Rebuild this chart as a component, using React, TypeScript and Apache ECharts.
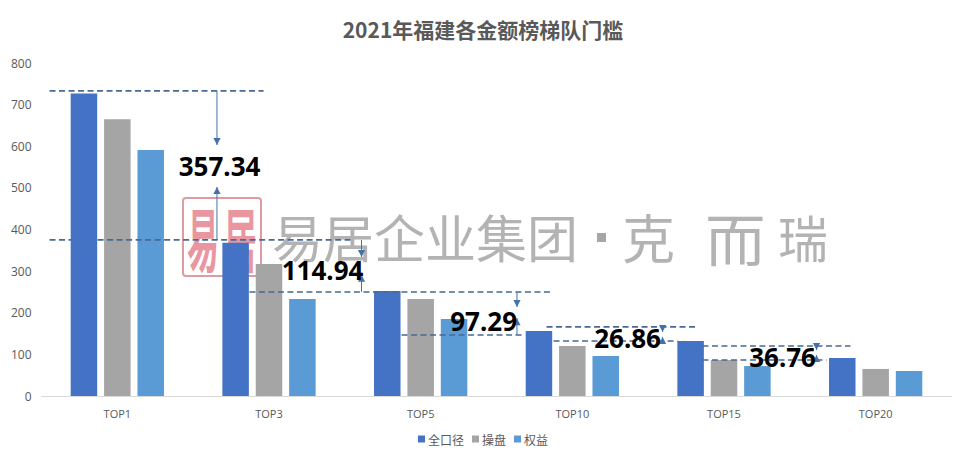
import React, { useEffect, useRef } from "react";
import * as echarts from "echarts";

const categories = ["TOP1", "TOP3", "TOP5", "TOP10", "TOP15", "TOP20"];
const allValues = [727, 368, 252, 156, 132, 91];
const operatingValues = [665, 317, 233, 120, 86.5, 65];
const equityValues = [591, 233, 185, 96, 72, 60];

// Dashed levels: [from (category units), to (category units), value]
const dashedLevels = [
  [0.053, 1.464, 733],
  [0.053, 0.197, 375],
  [0.37, 2.037, 375],
  [1.371, 3.363, 250],
  [2.374, 3.185, 146.5],
  [3.33, 4.312, 166],
  [3.376, 4.193, 132],
  [4.358, 5.334, 120],
  [4.358, 5.176, 86.5],
];
// Arrows: [x (category units), start value, tip value]
const gapArrows = [
  [1.157, 733, 603],
  [1.157, 375, 502],
  [2.11, 375, 334],
  [2.11, 250, 291],
  [3.135, 250, 214],
  [3.135, 146.5, 187],
  [4.095, 166, 154],
  [4.095, 132, 142],
  [5.11, 120, 110.5],
  [5.11, 86.5, 98.5],
];
const gapLabelTexts = ["357.34", "114.94", "97.29", "26.86", "36.76"];
const gapLabelX = [1.174, 1.853, 2.915, 3.864, 4.886];
const gapLabelY = [552, 303, 180, 139, 94];

const CJK = '"Noto Sans CJK SC", "Noto Sans", sans-serif';
const LINE = "#4a6a94";
const ARROW = "#4472a8";

export default function App() {
  const ref = useRef<HTMLDivElement>(null);
  useEffect(() => {
    const chart = echarts.init(ref.current!, null, { renderer: "svg" });
    const bar = (name: string, data: number[], color: string) => ({
      name,
      type: "bar",
      data,
      barWidth: 26.5,
      barGap: "26%",
      itemStyle: { color },
      z: 2,
    });
    const wmText = (text: string, x: number, y: number, size = 50, scaleX = 1) => ({
      type: "text",
      x,
      y,
      scaleX,
      silent: true,
      style: {
        text,
        fill: "rgba(160,160,160,0.8)",
        font: `400 ${size}px ${CJK}`,
        textVerticalAlign: "middle",
        verticalAlign: "middle",
        textAlign: "left",
      },
    });
    chart.setOption({
      animation: false,
      backgroundColor: "#ffffff",
      textStyle: { fontFamily: CJK },
      title: {
        text: "2021年福建各金额榜梯队门槛",
        left: 478,
        top: 13,
        textAlign: "center",
        textStyle: { fontSize: 21, fontWeight: "bold", color: "#595959", fontFamily: CJK },
      },
      legend: {
        data: ["全口径", "操盘", "权益"],
        left: "center",
        top: 428,
        itemWidth: 7,
        itemHeight: 7,
        itemGap: 8,
        icon: "rect",
        textStyle: { fontSize: 12, color: "#595959", padding: [0, 0, 0, -2], fontFamily: CJK },
      },
      grid: { left: 41.5, right: 14.5, top: 63, bottom: 65, containLabel: false },
      xAxis: [
        {
          type: "category",
          data: categories,
          axisTick: { show: false },
          axisLine: { lineStyle: { color: "#d9d9d9" } },
          axisLabel: { color: "#595959", fontSize: 11, margin: 12, fontFamily: "Open Sans" },
        },
        { type: "value", min: 0, max: 6, show: false },
      ],
      yAxis: {
        type: "value",
        min: 0,
        max: 800,
        interval: 100,
        splitLine: { show: false },
        axisLine: { show: false },
        axisTick: { show: false },
        axisLabel: { color: "#595959", fontSize: 12, margin: 10, fontFamily: "Open Sans" },
      },
      series: [
        bar("全口径", allValues, "#4472c4"),
        bar("操盘", operatingValues, "#a5a5a5"),
        bar("权益", equityValues, "#5b9bd5"),
        {
          type: "custom",
          xAxisIndex: 1,
          silent: true,
          z: 5,
          data: dashedLevels,
          encode: { x: [0, 1], y: 2 },
          renderItem: (_p: any, api: any) => {
            const a = api.coord([api.value(0), api.value(2)]);
            const b = api.coord([api.value(1), api.value(2)]);
            return {
              type: "line",
              shape: { x1: a[0], y1: a[1], x2: b[0], y2: b[1] },
              style: { stroke: LINE, lineWidth: 1.6, lineDash: [6, 3.5] },
            };
          },
        },
        {
          type: "custom",
          xAxisIndex: 1,
          silent: true,
          z: 6,
          data: gapArrows,
          encode: { x: 0, y: [1, 2] },
          renderItem: (_p: any, api: any) => {
            const s = api.coord([api.value(0), api.value(1)]);
            const t = api.coord([api.value(0), api.value(2)]);
            const dir = t[1] > s[1] ? 1 : -1;
            return {
              type: "group",
              children: [
                {
                  type: "line",
                  shape: { x1: s[0], y1: s[1], x2: t[0], y2: t[1] },
                  style: { stroke: ARROW, lineWidth: 1 },
                },
                {
                  type: "polygon",
                  shape: {
                    points: [
                      [t[0], t[1]],
                      [t[0] - 3.6, t[1] - dir * 7],
                      [t[0] + 3.6, t[1] - dir * 7],
                    ],
                  },
                  style: { fill: ARROW },
                },
              ],
            };
          },
        },
        {
          type: "custom",
          xAxisIndex: 1,
          silent: true,
          z: 7,
          data: gapLabelX.map((x, i) => [x, gapLabelY[i], gapLabelTexts[i]]),
          encode: { x: 0, y: 1 },
          renderItem: (_p: any, api: any) => {
            const c = api.coord([api.value(0), api.value(1)]);
            return {
              type: "text",
              x: c[0],
              y: c[1],
              style: {
                text: String(api.value(2)),
                fill: "#000000",
                font: '700 26px "Noto Sans", sans-serif',
                textAlign: "center",
                textVerticalAlign: "middle",
                verticalAlign: "middle",
              },
            };
          },
        },
      ],
      graphic: [
        {
          type: "group",
          silent: true,
          z: 20,
          children: [
            {
              type: "rect",
              shape: { x: 183, y: 198, width: 78, height: 78, r: 3 },
              style: { fill: "rgba(255,255,255,0.15)", stroke: "rgba(214,120,130,0.75)", lineWidth: 2 },
            },
            {
              type: "text",
              x: 187,
              y: 237,
              scaleX: 0.8,
              scaleY: 1.75,
              style: {
                text: "易",
                fill: "rgba(222,96,112,0.68)",
                font: `700 40px ${CJK}`,
                textVerticalAlign: "middle",
                verticalAlign: "middle",
              },
            },
            {
              type: "text",
              x: 224,
              y: 237,
              scaleX: 0.82,
              scaleY: 1.75,
              style: {
                text: "居",
                fill: "rgba(222,96,112,0.68)",
                font: `700 40px ${CJK}`,
                textVerticalAlign: "middle",
                verticalAlign: "middle",
              },
            },
            wmText("易居企业集团", 272, 236, 51),
            { type: "rect", shape: { x: 597, y: 233, width: 9, height: 9 }, style: { fill: "rgba(150,150,150,0.85)" } },
            wmText("克", 622, 236, 53),
            wmText("而", 705, 236, 56, 1.08),
            wmText("瑞", 778, 236, 50),
          ],
        },
      ],
    });
    return () => chart.dispose();
  }, []);
  return (
    <div
      ref={ref}
      style={{ position: "fixed", left: 0, top: 0, width: 966, height: 461, background: "#fff" }}
    />
  );
}
